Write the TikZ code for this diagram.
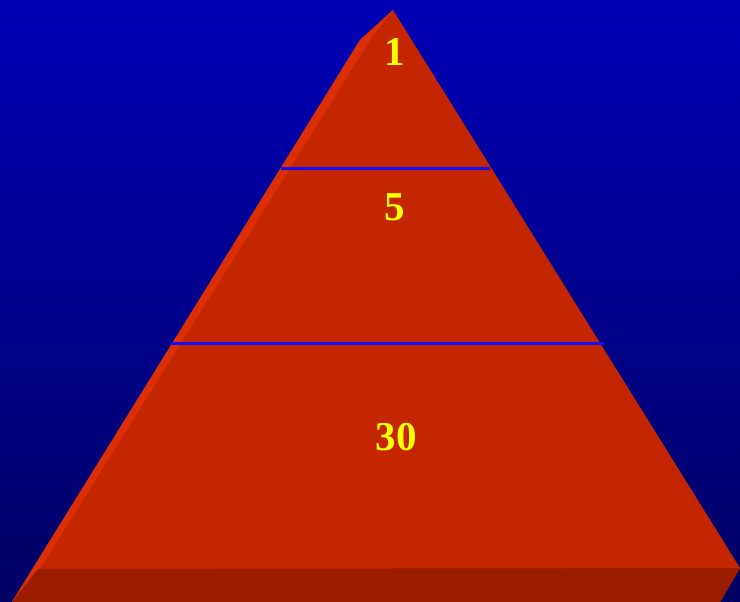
\documentclass[tikz,border=0pt]{standalone}
\usepackage{fontspec}
\setmainfont{Liberation Serif}
\definecolor{bgtop}{RGB}{0,0,182}
\definecolor{bgbot}{RGB}{0,0,100}
\definecolor{front}{RGB}{196,38,0}
\definecolor{bevel}{RGB}{220,48,4}
\definecolor{basec}{RGB}{156,28,0}
\definecolor{sep}{RGB}{16,16,240}
\definecolor{numc}{RGB}{255,255,0}
\tikzset{
  num/.style={text=numc, font=\fontsize{41}{48}\selectfont\bfseries, inner sep=0pt},
  sepline/.style={draw=sep, line width=3pt},
}
\begin{document}
\begin{tikzpicture}[x=1pt,y=-1pt]
\useasboundingbox (0,0) rectangle (740,602);
\shade[top color=bgtop, bottom color=bgbot] (0,0) rectangle (740,602);
% whole pyramid body (front face colour)
\fill[front] (393,10) -- (360,40) -- (12,602) -- (720,602) -- (740,568) -- cycle;
% left bevel strip
\fill[bevel] (393,10) -- (360,40) -- (12,602) -- (40,569) -- (372,37) -- cycle;
% base slab
\fill[basec] (38,569) -- (740,568) -- (720,602) -- (12,602) -- cycle;
% separators
\coordinate (l1a) at (281,168);
\coordinate (l1b) at (490,168);
\coordinate (l2a) at (170,343);
\coordinate (l2b) at (604,343);
\draw[sepline] (l1a) -- (l1b);
\draw[sepline] (l2a) -- (l2b);
% labels
\node[num] (n1) at (395,52) {1};
\node[num] (n5) at (395,207) {5};
\node[num] (n30) at (396,437) {30};
\end{tikzpicture}
\end{document}
